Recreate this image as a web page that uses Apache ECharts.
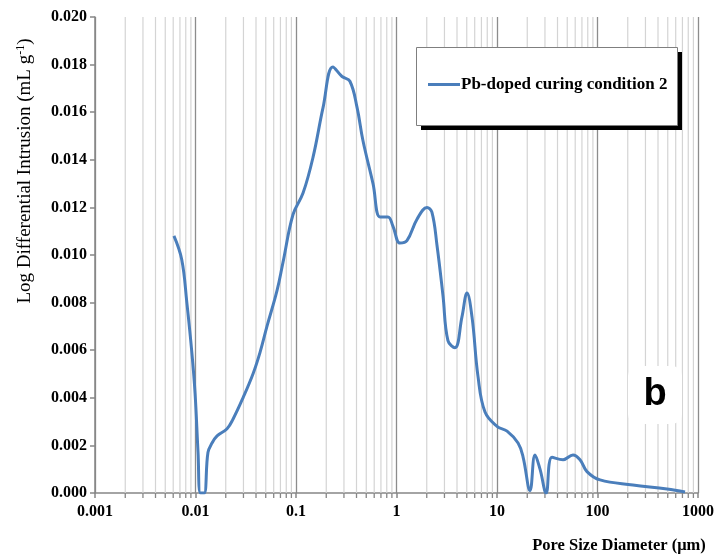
<!DOCTYPE html>
<html><head><meta charset="utf-8">
<script src="https://cdn.jsdelivr.net/npm/echarts@6/dist/echarts.min.js"></script>
<style>html,body{margin:0;padding:0;background:#fff}#c{width:720px;height:560px}</style>
</head><body><div id="c"></div>
<script>
// Pore size diameter (µm) and log differential intrusion (mL/g)
const poreSize = [0.0061,0.0073,0.0082,0.0092,0.0099,0.0106,0.0112,0.0122,0.0133,0.0146,0.0164,0.0206,0.0236,0.0297,0.0373,0.0438,0.0514,0.0647,0.0743,0.0934,0.1175,0.1476,0.186,0.233,0.287,0.344,0.405,0.464,0.584,0.686,0.823,0.923,1.084,1.27,1.60,2.01,2.25,2.53,2.90,3.25,3.82,4.48,5.03,5.64,6.47,7.60,10.0,12.6,16.2,18.2,21.3,23.9,26.8,30.8,35.3,45.4,57.0,67.0,78.6,106,225,492,743];
const intrusion = [0.0108,0.0098,0.0080,0.0059,0.0042,0.0017,0.0000,0.0000,0.0017,0.0021,0.0024,0.0027,0.0031,0.0040,0.0050,0.0059,0.0070,0.0085,0.0097,0.0117,0.0126,0.0141,0.0162,0.0179,0.0175,0.0173,0.0162,0.0148,0.0130,0.0116,0.0116,0.0112,0.0105,0.0106,0.0115,0.0120,0.0118,0.0104,0.0083,0.0064,0.0061,0.0074,0.0084,0.0074,0.0049,0.0034,0.0028,0.0026,0.0021,0.0015,0.0001,0.0016,0.0010,0.0000,0.0015,0.0014,0.0016,0.0014,0.0009,0.00055,0.00034,0.00017,0.00004];
const seriesName = 'Pb-doped curing condition 2';
const xTickLabels = ['0.001','0.01','0.1','1','10','100','1000'];
const yTickLabels = ['0.000','0.002','0.004','0.006','0.008','0.010','0.012','0.014','0.016','0.018','0.020'];
const decades = [0.001,0.01,0.1,1,10,100];
const minorMultipliers = [2,3,4,5,6,7,8,9];
const panelLabel = 'b';
const xTitle = 'Pore Size Diameter (\u03bcm)';

const minorTicks = [];
decades.forEach(d => minorMultipliers.forEach(m => minorTicks.push(+(d*m).toPrecision(3))));
const lineData = poreSize.map((x,i) => [x, intrusion[i]]);

const serif = 'Liberation Serif';
const chart = echarts.init(document.getElementById('c'), null, {renderer:'canvas'});
chart.setOption({
  animation:false,
  backgroundColor:'#fff',
  grid:{left:95,right:22,top:17,bottom:67},
  legend:{
    left:428, top:76, z:10,
    padding:0,
    icon:'rect', itemWidth:32, itemHeight:3, itemGap:5,
    textStyle:{fontFamily:serif, fontWeight:'bold', fontSize:17, color:'#000', padding:[0,0,0,-4]},
    data:[seriesName]
  },
  xAxis:{
    type:'log', logBase:10, min:0.001, max:1000, splitNumber:6,
    axisLine:{lineStyle:{color:'#868686',width:1.5}},
    axisTick:{show:true,inside:false,length:5,lineStyle:{color:'#868686',width:1.5}},
    axisLabel:{margin:11, fontFamily:serif, fontWeight:'bold', fontSize:16, color:'#000',
      formatter:v => { const k = Math.round(Math.log10(v)) + 3; return xTickLabels[k] || ''; }},
    splitLine:{show:true, lineStyle:{color:'#8c8c8c', width:1.3}},
    minorTick:{show:false}, minorSplitLine:{show:false}
  },
  yAxis:{
    type:'value', min:0, max:0.02, interval:0.002,
    axisLine:{show:true, lineStyle:{color:'#868686',width:1.5}},
    axisTick:{show:true, length:5, lineStyle:{color:'#868686',width:1.5}},
    axisLabel:{margin:8, fontFamily:serif, fontWeight:'bold', fontSize:16, color:'#000',
      formatter:(v) => yTickLabels[Math.round(v/0.002)] || ''},
    splitLine:{show:false}
  },
  graphic:[
    {type:'rect', left:421, top:52, z:3, shape:{width:261, height:78}, style:{fill:'#000'}},
    {type:'rect', left:416, top:47, z:3, shape:{width:261, height:78}, style:{fill:'#fff', stroke:'#7f7f7f', lineWidth:1}},
    {type:'text', x:25, y:171, rotation:Math.PI/2, z:10,
     style:{text:'{a|Log Differential Intrusion (mL g}{s|-1}{a|)}', align:'center', verticalAlign:'middle',
       rich:{
         a:{fontFamily:serif, fontSize:19, fill:'#000'},
         s:{fontFamily:serif, fontSize:12, fill:'#000', verticalAlign:'top', padding:[0,0,9,0]}
       }}},
    {type:'text', x:619, y:546, z:10,
     style:{text:xTitle, align:'center', verticalAlign:'middle', font:'bold 16.5px "Liberation Serif"', fill:'#000'}},
    {type:'rect', left:628, top:366, z:10, shape:{width:54, height:58, r:10}, style:{fill:'#fff'}},
    {type:'text', x:655, y:395, z:11,
     style:{text:panelLabel, align:'center', verticalAlign:'middle', font:'bold 38px "Liberation Sans"', fill:'#000'}}
  ],
  series:[
    {
      type:'custom', name:'minorGrid', silent:true, z:1,
      data:minorTicks,
      renderItem:(params, api) => {
        const v = api.value(0);
        const top = api.coord([v, 0.02]);
        const bot = api.coord([v, 0]);
        return {type:'group', children:[
          {type:'line', shape:{x1:top[0],y1:top[1],x2:bot[0],y2:bot[1]}, style:{stroke:'#d4d4d4', lineWidth:1.2}},
          {type:'line', shape:{x1:bot[0],y1:bot[1],x2:bot[0],y2:bot[1]+5}, style:{stroke:'#868686', lineWidth:1.3}}
        ]};
      },
      encode:{x:0}
    },
    {
      type:'line', name:seriesName, data:lineData, z:5,
      smooth:0.4, symbol:'none', showSymbol:false,
      lineStyle:{color:'#4a7ebb', width:3},
      itemStyle:{color:'#4a7ebb'}
    }
  ]
});
</script></body></html>
